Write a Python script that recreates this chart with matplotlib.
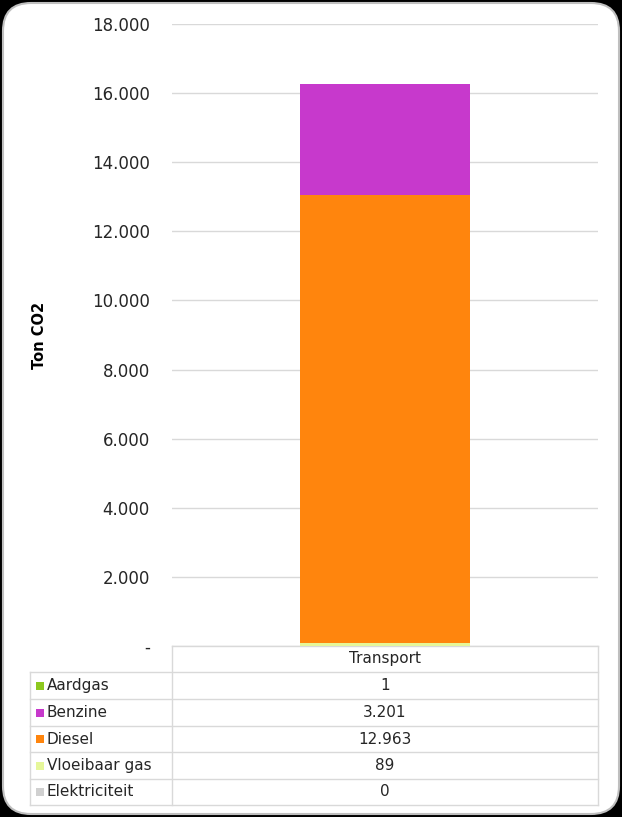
import matplotlib
matplotlib.use("Agg")
import matplotlib.pyplot as plt
from matplotlib.patches import FancyBboxPatch, Rectangle
from matplotlib.lines import Line2D

# data (stack order bottom -> top)
categories = ["Transport"]
series = ["Elektriciteit", "Vloeibaar gas", "Diesel", "Benzine", "Aardgas"]
values = [0, 89, 12963, 3201, 1]
colors = ["#d0d0d0", "#e6f79a", "#ff850d", "#c739cc", "#8dc81e"]
# table order (top -> bottom)
table_series = ["Aardgas", "Benzine", "Diesel", "Vloeibaar gas", "Elektriciteit"]
yticks = [0, 2000, 4000, 6000, 8000, 10000, 12000, 14000, 16000, 18000]

W, H = 622, 817
plt.rcParams["font.family"] = ["DejaVu Sans"]
fig = plt.figure(figsize=(W / 100, H / 100), dpi=100, facecolor="black")

# white rounded panel (behind everything)
panel = FancyBboxPatch((3 / W, 3 / H), (W - 6) / W, (H - 6) / H,
                       boxstyle="round,pad=0,rounding_size=0.045",
                       transform=fig.transFigure, facecolor="white",
                       edgecolor="#bfbfbf", linewidth=1.5, mutation_aspect=W / H,
                       zorder=-10)
fig.add_artist(panel)


def fx(px):
    return px / W


def fy(py):
    return 1 - py / H


ax = fig.add_axes([fx(172), fy(646), fx(598) - fx(172), fy(24) - fy(646)])
ax.set_facecolor("none")
ax.set_zorder(5)

bottom = 0
for name, val, col in zip(series, values, colors):
    ax.bar(0, val, width=0.4, bottom=bottom, color=col, label=name, zorder=3)
    bottom += val

ax.set_xlim(-0.5, 0.5)
ax.set_ylim(0, 18000)
ax.set_yticks(yticks)
ax.set_yticklabels(["-" if t == 0 else f"{t:,}".replace(",", ".") for t in yticks],
                   fontsize=12, color="#262626")
ax.tick_params(axis="y", length=0, pad=16)
ax.set_xticks([])
ax.grid(axis="y", color="#d9d9d9", linewidth=1, zorder=0)
for s in ax.spines.values():
    s.set_visible(False)

fig.text(fx(40), fy(335), "Ton CO2", rotation=90, ha="center", va="center",
         fontsize=10.5, fontweight="bold", color="black")

# data table
line_col = "#d9d9d9"
rows_y = [646, 672, 699, 726, 752, 779, 805]
x_left, x_div, x_right = 30, 172, 598


def hline(y, x0, x1):
    fig.add_artist(Line2D([fx(x0), fx(x1)], [fy(y), fy(y)], color=line_col,
                          linewidth=1, transform=fig.transFigure))


def vline(x, y0, y1):
    fig.add_artist(Line2D([fx(x), fx(x)], [fy(y0), fy(y1)], color=line_col,
                          linewidth=1, transform=fig.transFigure))


hline(rows_y[0], x_div, x_right)
for y in rows_y[1:]:
    hline(y, x_left, x_right)
vline(x_div, rows_y[0], rows_y[-1])
vline(x_right, rows_y[0], rows_y[-1])
vline(x_left, rows_y[1], rows_y[-1])

fig.text(fx((x_div + x_right) / 2), fy((rows_y[0] + rows_y[1]) / 2), categories[0],
         ha="center", va="center", fontsize=11, color="#262626")

val_map = dict(zip(series, values))
col_map = dict(zip(series, colors))
for i, name in enumerate(table_series):
    yc = (rows_y[i + 1] + rows_y[i + 2]) / 2
    sq = 8
    fig.add_artist(Rectangle((fx(36), fy(yc + sq / 2)), sq / W, sq / H,
                             facecolor=col_map[name], edgecolor="none",
                             transform=fig.transFigure))
    fig.text(fx(47), fy(yc), name, ha="left", va="center", fontsize=11, color="#262626")
    v = val_map[name]
    fig.text(fx((x_div + x_right) / 2), fy(yc), f"{v:,}".replace(",", "."),
             ha="center", va="center", fontsize=11, color="#262626")

fig.savefig("out.png", dpi=100, facecolor="black")
